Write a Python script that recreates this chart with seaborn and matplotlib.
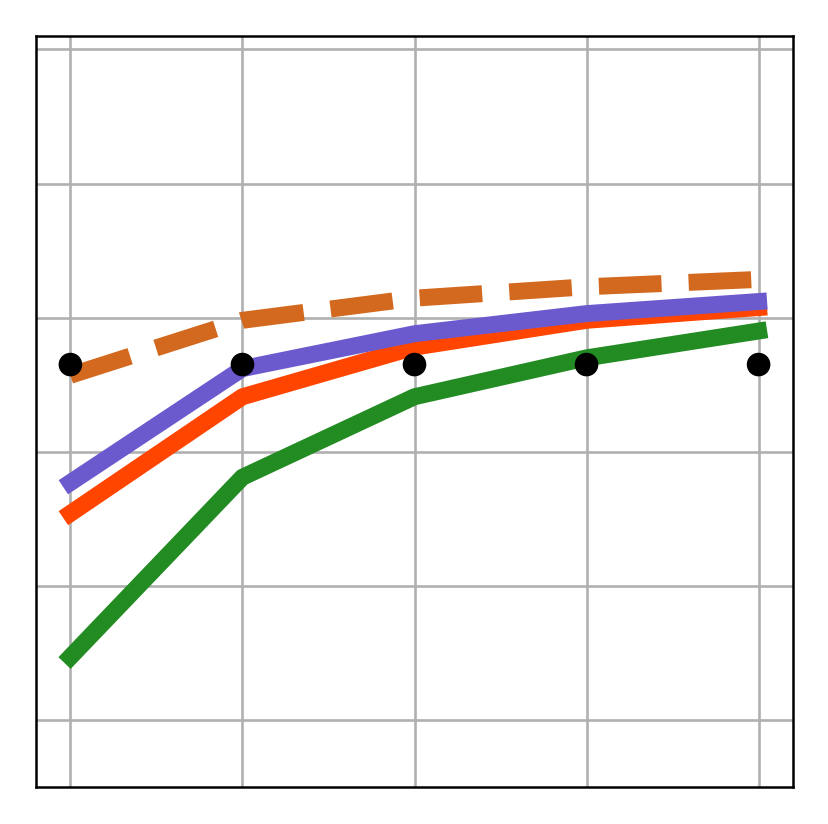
import matplotlib
matplotlib.use("Agg")
import matplotlib.pyplot as plt
import seaborn as sns
import numpy as np

x = [0, 1, 2, 3, 4]
green = [0.47, 1.81, 2.41, 2.70, 2.90]
red = [1.54, 2.41, 2.78, 2.98, 3.075]
purple = [1.77, 2.62, 2.88, 3.03, 3.12]
orange = [2.57, 2.98, 3.145, 3.23, 3.285]
dots = [2.65, 2.65, 2.65, 2.65, 2.65]

sns.set_style("white")
fig = plt.figure(figsize=(8.29, 8.24), dpi=100)
ax = fig.add_axes([36/829, 37/824, (793-36)/829, (787-36)/824])

common = dict(lw=12.2, solid_capstyle="projecting", dash_capstyle="butt")
sns.lineplot(x=x, y=green, ax=ax, color="#228B22", zorder=3, **common)
sns.lineplot(x=x, y=red, ax=ax, color="#FF4500", zorder=4, **common)
sns.lineplot(x=x, y=purple, ax=ax, color="#6A5ACD", zorder=5, **common)
sns.lineplot(x=x, y=orange, ax=ax, color="#D2691E", linestyle="--", zorder=6, **common)
sns.scatterplot(x=x, y=dots, ax=ax, color="black", s=17**2, edgecolor="none", zorder=7)

ax.set_xlim(-0.2, 4.2)
ax.set_ylim(-0.5, 5.1)
ax.set_xticks([0, 1, 2, 3, 4])
ax.set_yticks([0, 1, 2, 3, 4, 5])
ax.set_xticklabels([])
ax.set_yticklabels([])
ax.tick_params(length=0)
ax.grid(True, color="#b0b0b0", lw=1.9, zorder=0)
ax.set_axisbelow(True)
for s in ax.spines.values():
    s.set_color("black")
    s.set_linewidth(1.8)

fig.savefig("out.png", dpi=100)
